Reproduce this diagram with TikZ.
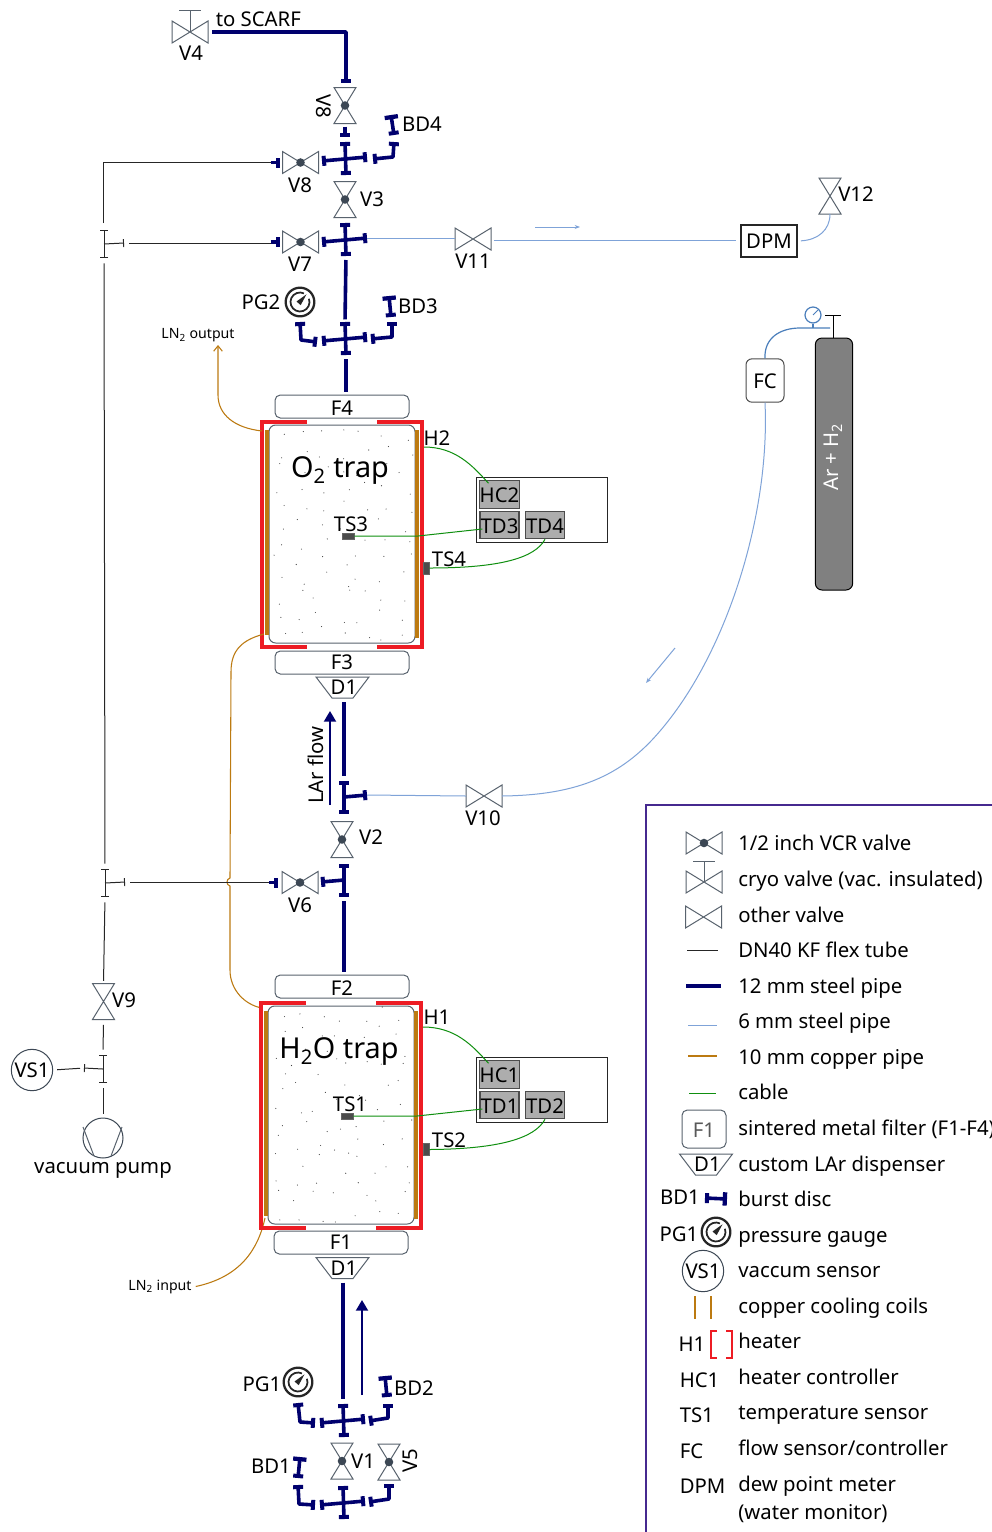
\documentclass[tikz,border=0pt]{standalone}
\usepackage{fontspec}
\setmainfont{Noto Sans}
\usetikzlibrary{arrows.meta}

\definecolor{pipenavy}{HTML}{00006E}
\definecolor{thinblue}{HTML}{7FA3D8}
\definecolor{gasblue}{HTML}{4A7EBB}
\definecolor{copperline}{HTML}{BC7A11}
\definecolor{cablegreen}{HTML}{0F8F0F}
\definecolor{heaterred}{HTML}{ED1C24}
\definecolor{valvegrey}{HTML}{59636E}
\definecolor{valvedark}{HTML}{3C4754}
\definecolor{legendpurple}{HTML}{46298F}

\newcommand{\labelfont}{\fontsize{15.25}{18}\selectfont}
\newcommand{\smallfont}{\fontsize{10.6}{13}\selectfont}
\newcommand{\titlefont}{\fontsize{21.6}{26}\selectfont}

\tikzset{
  flangeend/.tip={Rectangle[length=3pt,width=7.5pt]},
  discend/.tip={Rectangle[length=3.2pt,width=10pt]},
  flexend/.tip={Bar[width=6pt,line width=.7pt]},
  pipe/.style={draw=pipenavy,line width=2.7pt,line join=round},
  flanged/.style={pipe,arrows={flangeend-flangeend}},
  burstdisc/.style={pipe,arrows={flangeend-discend}},
  stub/.style={pipe,arrows={-flangeend}},
  flex/.style={draw=black!85,line width=.75pt},
  flexbar/.style={flex,arrows={flexend-flexend}},
  sixmm/.style={draw=thinblue,line width=.75pt},
  gasline/.style={draw=gasblue,line width=.9pt},
  copper/.style={draw=copperline,line width=.8pt},
  coil/.style={fill=copperline,draw=none},
  cable/.style={draw=cablegreen,line width=.75pt},
  heater/.style={draw=heaterred,line width=2.7pt,line join=miter},
  valvebox/.style={inner sep=0pt,outer sep=0pt},
  hvalvebox/.style={valvebox,minimum width=27pt,minimum height=16.5pt},
  vvalvebox/.style={valvebox,minimum width=16.5pt,minimum height=27pt},
  valveline/.style={draw=valvegrey,line width=.75pt},
  tag/.style={font=\labelfont,inner sep=0pt},
  smalltag/.style={font=\smallfont,inner sep=0pt},
  legendtext/.style={font=\labelfont,inner sep=0pt,anchor=base west,yshift=-5.5pt},
  filterbox/.style={draw=valvegrey,line width=.75pt,rounded corners=4pt,inner sep=0pt,
    font=\labelfont,text height=13pt,text depth=0pt,minimum width=100.5pt,minimum height=17.25pt},
  trapbox/.style={draw=valvegrey,line width=.75pt,rounded corners=5pt,inner sep=0pt,
    minimum width=109.5pt,minimum height=163.5pt},
  rackbox/.style={draw=black!85,line width=.75pt,inner sep=0pt,
    minimum width=98.25pt,minimum height=48.75pt},
  unitbox/.style={draw=black!70,line width=.9pt,fill=black!32,inner sep=0pt,font=\labelfont,
    text height=12.2pt,text depth=0pt,minimum width=29.25pt,minimum height=20.5pt},
  sensorbox/.style={draw=black!60,fill=black!70,line width=.5pt,inner sep=0pt},
  dispbox/.style={inner sep=0pt,outer sep=0pt,font=\labelfont,minimum width=39.75pt,minimum height=15.75pt},
  gaugebox/.style={circle,draw=black!85,line width=1.7pt,inner sep=0pt,minimum size=21.5pt},
  vsbox/.style={circle,draw=valvedark,line width=.75pt,inner sep=0pt,minimum size=31pt,font=\labelfont},
}

% valve symbols
\newcommand{\hvalve}[3]{\node[hvalvebox] (#1) at (#2,#3) {};
  \draw[valveline] (#1.north west) -- (#1.south west) -- (#1.north east) -- (#1.south east) -- cycle;}
\newcommand{\vvalve}[3]{\node[vvalvebox] (#1) at (#2,#3) {};
  \draw[valveline] (#1.north west) -- (#1.north east) -- (#1.south west) -- (#1.south east) -- cycle;}
\newcommand{\valvedot}[1]{\fill[valvedark] (#1.center) circle (3.2pt);}
\newcommand{\gaugeface}[1]{
  \draw[black!85,line width=1.3pt] (#1) ++(-20:9.5) arc[start angle=-20,end angle=295,radius=9.5];
  \fill[black!85] (#1) ++(6.5,-7.7) -- ++(-10,7.2) -- ++(4.2,3.6) -- cycle;}
\newcommand{\dispenser}[3]{\node[dispbox] (#1) at (#2,#3) {\hspace*{2.2pt}D1};
  \draw[valveline] (#1.north west) -- (#1.north east) -- ++(-16,21) -- ++(-21,0) -- cycle;}

% pipe pieces with flanges
\newcommand{\pipecross}[3]{\coordinate (#1) at (#2,#3);
  \path (#1) ++(-23,2) coordinate (#1-w) ++(45,-4) coordinate (#1-e);
  \path (#1) ++(0,-17) coordinate (#1-n) ++(1,33) coordinate (#1-s);
  \draw[flanged] (#1-w) -- (#1-e);
  \draw[flanged] (#1-n) -- (#1-s);}
\newcommand{\pipetee}[5]{\coordinate (#1) at (#2,#3);
  \path (#1) ++(0,-16) coordinate (#1-n) ++(0,33) coordinate (#1-s);
  \path (#1) ++(0,0) coordinate (#1-j) ++(#4,#5) coordinate (#1-a);
  \draw[flanged] (#1-n) -- (#1-s);
  \draw[stub] (#1-j) -- (#1-a);}
\newcommand{\flextee}[4]{\coordinate (#1) at (#2,#3);
  \path (#1) ++(0,-14) coordinate (#1-n) ++(0,28) coordinate (#1-s);
  \path (#1) ++(#4,-1) coordinate (#1-a);
  \draw[flexbar] (#1-n) -- (#1-s);
  \draw[flex,arrows={-flexend}] (#1) -- (#1-a);}

% one trap with its coils, heater and packing
\newcommand{\coldtrap}[3]{
  \begin{scope}[shift={(#2,#3)}]
    \node[trapbox] (#1) at (0,0) {};
    \fill[coil] (-77,-104) rectangle (-73.5,101);
    \fill[coil] (73,-104) rectangle (76.5,104);
    \draw[heater] (-35,-112) -- (-80,-112) -- (-80,113) -- (-35,113);
    \draw[heater] (35,-112) -- (80,-112) -- (80,113) -- (35,113);
    \foreach \row in {0,...,11}
      \foreach \col in {0,...,6}{
        \pgfmathsetmacro\dotx{-63+\col*21+rand*8}
        \pgfmathsetmacro\doty{-100+\row*18.2+rand*8}
        \fill[black!75] (\dotx,\doty) circle (.42pt);
      }
  \end{scope}}

\begin{document}
\begin{tikzpicture}[x=.75pt,y=-.75pt]
  \path[use as bounding box,fill=white] (0,0) rectangle (992,1532);
  \pgfmathsetseed{11}

  % top line to the exhaust
  \hvalve{vfour}{190}{32}
  \draw[valveline,arrows={-Bar[width=16.5pt,line width=.75pt]}] (vfour.center) -- (190,10);
  \node[tag] (lbvfour) at (191,53) {V4};
  \node[tag,anchor=west] (lbscarf) at (215.5,19) {to SCARF};
  \vvalve{veighttop}{345}{105.5}\valvedot{veighttop}
  \node[tag,rotate=-90] (lbveighttop) at (324,106) {V8};
  \pipecross{crossa}{345}{159}
  \draw[stub,shorten >=3.5pt] (vfour.east) ++(4,0) -| (veighttop.north -| crossa-s);
  \draw[stub] (veighttop.south) ++(0,3) -- ++(0,10);
  \draw[flanged] (crossa-e) ++(6,2) -- ++(20,-2) -- ++(1,-15) coordinate (bdfourfoot);
  \draw[burstdisc] (bdfourfoot) ++(0,-7) -- ++(-3,-20);
  \node[tag] (lbbdfour) at (422,124) {BD4};
  \hvalve{veight}{300.5}{162.5}\valvedot{veight}
  \node[tag] (lbveight) at (300,185) {V8};
  \draw[stub] (veight.west) ++(-12,0) coordinate (stubeight) -- ++(9,0);

  \vvalve{vthree}{345}{199.5}\valvedot{vthree}
  \node[tag] (lbvthree) at (372,199) {V3};
  \pipecross{crossb}{345}{240}
  \hvalve{vseven}{300.5}{242}\valvedot{vseven}
  \node[tag] (lbvseven) at (300,264) {V7};
  \draw[stub] (vseven.west) ++(-12,0) coordinate (stubseven) -- ++(9,0);

  % humidity line
  \hvalve{veleven}{473}{239}
  \node[tag] (lbveleven) at (473,261) {V11};
  \node[draw=black!85,line width=.8pt,inner sep=0pt,minimum width=42pt,minimum height=24pt,font=\labelfont] (dpm) at (769,241) {DPM};
  \vvalve{vtwelve}{830}{196}
  \node[tag] (lbvtwelve) at (856,194) {V12};
  \draw[sixmm] (crossb-e) -- (veleven.west |- crossb-e);
  \draw[sixmm,shorten <=2pt,shorten >=3pt] (veleven.east) ++(0,1) coordinate (humstart) -- (dpm.west |- humstart);
  \draw[sixmm,shorten <=2.5pt] (dpm.east) .. controls (818,240) and (830,230) .. (vtwelve.south);
  \coordinate (flowa) at (535,227);
  \coordinate (flowb) at (580,227);
  \draw[sixmm,arrows={-Stealth[length=4pt,width=3pt]}] (flowa) -- (flowb);

  \pipecross{crossc}{345}{339}
  \draw[pipe,shorten <=3pt,shorten >=2pt] (crossb-s) -- (crossc-n);
  \node[gaugebox] (pgtwo) at (300,302) {};\gaugeface{pgtwo}
  \node[tag] (lbpgtwo) at (261,302) {PG2};
  \draw[flanged] (crossc-w) ++(-5,1) -- ++(-16,-2) -- (pgtwo.south |- 0,322);
  \draw[flanged] (crossc-e) ++(4,2) -- ++(21,-2) -- ++(0,-15) coordinate (bdthreefoot);
  \draw[burstdisc] (bdthreefoot) ++(-1,-5) -- ++(-2,-21);
  \node[tag] (lbbdthree) at (418,306) {BD3};

  % oxygen trap
  \node[filterbox] (ffour) at (342,406.5) {F4};
  \draw[pipe,shorten <=3pt,shorten >=2pt] (crossc-s) -- (ffour.north -| crossc-s);
  \coldtrap{otrap}{342}{534}
  \node[font=\titlefont,inner sep=0pt] (lbotrap) at (340,471) {O\textsubscript{2} trap};
  \node[filterbox,text height=11pt] (fthree) at (342,662.5) {F3};
  \dispenser{donetop}{342.5}{687.5}
  \node[sensorbox,minimum width=9pt,minimum height=4.5pt] (tsthree) at (348,536) {};
  \node[tag] (lbtsthree) at (351,524) {TS3};
  \node[sensorbox,minimum width=4.5pt,minimum height=9pt] (tsfour) at (426,568) {};
  \node[tag] (lbtsfour) at (449,559) {TS4};
  \node[tag] (lbhtwo) at (437,438) {H2};
  \node[rackbox] (rackb) at (541.5,509.5) {};
  \node[unitbox] (hctwo) at (499.5,494.5) {HC2};
  \node[unitbox] (tdthree) at (499.5,525) {TD3};
  \node[unitbox] (tdfour) at (545,525) {TD4};
  \coordinate (hconn) at (424,447);
  \path (hctwo.north) ++(-11,3) coordinate (hcin);
  \path (tdthree.west) ++(3,4) coordinate (tdin);
  \draw[cable] (hconn) .. controls (455,447) and (472,465) .. (hcin);
  \draw[cable] (tsthree.east) -- (418,536) -- (tdin);
  \draw[cable] (tsfour.east) .. controls (500,568) and (535,558) .. (tdfour.south);

  % LN2 lines
  \node[smalltag] (lblnout) at (198,335.5) {LN\textsubscript{2} output};
  \coordinate (lnoutend) at (218,345);
  \draw[copper,arrows={-Straight Barb[length=4pt,width=6.5pt]}] (262,431) .. controls (235,428) and (218,415) .. (218,395) -- (lnoutend);
  \draw[copper] (264,634) .. controls (242,640) and (231,650) .. (231,672) -- (230,878)
    .. controls (226,879) and (226,885) .. (230,886) -- (230,970) .. controls (230,990) and (245,1005) .. (262,1008);
  \node[smalltag] (lblnin) at (160,1286.5) {LN\textsubscript{2} input};
  \draw[copper] (lblnin.east) ++(4,0) .. controls (240,1277) and (258,1250) .. (265,1218);

  % LAr section
  \pipetee{teelar}{344}{797}{23}{-2}
  \draw[pipe,shorten <=3pt,shorten >=4pt] (donetop.south -| teelar) -- (teelar-n);
  \coordinate (larfoot) at (330,805);
  \coordinate (larhead) at (330,711);
  \draw[draw=pipenavy,line width=1.5pt,arrows={-Triangle[length=8pt,width=9pt]}] (larfoot) -- (larhead);
  \node[tag,rotate=90] (lblar) at (316,765) {LAr flow};
  \hvalve{vten}{484}{796}
  \node[tag] (lbvten) at (483,818) {V10};
  \draw[sixmm] (teelar-a) -- (vten.west);

  % gas supply
  \node[draw=black!70,line width=.75pt,rounded corners=4.5pt,inner sep=0pt,minimum width=28.5pt,minimum height=32.5pt,font=\labelfont,text height=12.2pt,text depth=0pt] (fc) at (765,380.5) {FC};
  \draw[sixmm] (vten.east) .. controls (580,795) and (625,775) .. (665,725) .. controls (730,645) and (770,510) .. (fc.south);
  \coordinate (flowc) at (675,648);
  \coordinate (flowd) at (646,683);
  \draw[sixmm,arrows={-Stealth[length=4pt,width=3pt]}] (flowc) -- (flowd);
  \node[draw=black,line width=.75pt,fill=black!50,rounded corners=5pt,inner sep=0pt,minimum width=28pt,minimum height=189pt] (bottle) at (834,464) {};
  \node[font=\labelfont,text=white,rotate=90,inner sep=0pt] (lbbottle) at (833,457) {Ar + H\textsubscript{2}};
  \draw[draw=black,line width=.75pt,arrows={-Bar[width=11.5pt,line width=.75pt]}] (bottle.north -| 833,0) -- (833,315);
  \coordinate (gasend) at (830,328);
  \draw[gasline] (fc.north) .. controls (764,338) and (780,328) .. (800,328) -- (gasend);
  \node[circle,draw=gasblue,line width=.9pt,inner sep=0pt,minimum size=12pt] (gasgauge) at (813,315) {};
  \draw[gasline] (gasgauge.south) -- (gasgauge.south |- gasend);
  \draw[gasline,line width=.6pt] (gasgauge.center) -- ++(5,-5);

  % V2 and below
  \vvalve{vtwo}{342}{839.5}\valvedot{vtwo}
  \node[tag] (lbvtwo) at (371,837) {V2};
  \pipetee{teevsix}{344}{880}{-23}{2}
  \hvalve{vsix}{300}{882.5}\valvedot{vsix}
  \node[tag] (lbvsix) at (300,905) {V6};
  \draw[stub] (vsix.west) ++(-13,0) coordinate (stubsix) -- ++(9,0);

  % water trap
  \node[filterbox] (ftwo) at (342,986.5) {F2};
  \draw[pipe,shorten <=3pt,shorten >=2pt] (teevsix-s) -- (ftwo.north -| teevsix-s);
  \coldtrap{wtrap}{341}{1115}
  \node[font=\titlefont,inner sep=0pt] (lbwtrap) at (339,1052) {H\textsubscript{2}O trap};
  \node[filterbox,text height=11pt] (fone) at (341,1242.5) {F1};
  \dispenser{donebot}{342.5}{1268}
  \node[sensorbox,minimum width=9pt,minimum height=4.5pt] (tsone) at (347,1116) {};
  \node[tag] (lbtsone) at (350,1104) {TS1};
  \node[sensorbox,minimum width=4.5pt,minimum height=9pt] (tstwo) at (426,1149.5) {};
  \node[tag] (lbtstwo) at (449,1140) {TS2};
  \node[tag] (lbhone) at (437,1017) {H1};
  \node[rackbox] (racka) at (541.5,1090) {};
  \node[unitbox] (hcone) at (499.5,1074.5) {HC1};
  \node[unitbox] (tdone) at (499.5,1105) {TD1};
  \node[unitbox] (tdtwo) at (545,1105) {TD2};
  \coordinate (hconnb) at (423,1027);
  \path (hcone.north) ++(-11,3) coordinate (hcinb);
  \path (tdone.west) ++(3,4) coordinate (tdinb);
  \draw[cable] (hconnb) .. controls (455,1027) and (472,1045) .. (hcinb);
  \draw[cable] (tsone.east) -- (417,1116) -- (tdinb);
  \draw[cable] (tstwo.east) .. controls (500,1149) and (535,1138) .. (tdtwo.south);

  % bottom manifold
  \pipecross{crossd}{343}{1421}
  \draw[pipe,shorten <=3pt,shorten >=4pt] (donebot.south -| crossd) -- (crossd-n);
  \coordinate (inletfoot) at (362,1395);
  \coordinate (inlethead) at (362,1300);
  \draw[draw=pipenavy,line width=1.5pt,arrows={-Triangle[length=8pt,width=9pt]}] (inletfoot) -- (inlethead);
  \node[gaugebox] (pgone) at (298,1382) {};\gaugeface{pgone}
  \node[tag] (lbpgone) at (262,1384) {PG1};
  \draw[flanged] (crossd-w) ++(-5,0) -- ++(-15,-1) -- ++(-2,-19);
  \draw[flanged] (crossd-e) ++(4,2) -- ++(19,-3) -- ++(0,-14) coordinate (bdtwofoot);
  \draw[burstdisc] (bdtwofoot) ++(-1,-7) -- ++(-2,-21);
  \node[tag] (lbbdtwo) at (414,1388) {BD2};
  \vvalve{vone}{342}{1461}\valvedot{vone}
  \node[tag] (lbvone) at (363,1461) {V1};
  \vvalve{vfive}{389}{1462}\valvedot{vfive}
  \node[tag,rotate=90] (lbvfive) at (410,1461) {V5};
  \pipecross{crosse}{343}{1503}
  \draw[flanged] (crosse-w) ++(-5,0) -- ++(-16,-1) -- ++(-1,-19) coordinate (bdonefoot);
  \draw[flanged] (crosse-e) ++(4,1) -- ++(20,-3) -- ++(0,-15);
  \draw[burstdisc] (bdonefoot) ++(0,-7) -- ++(2,-21);
  \node[tag] (lbbdone) at (271,1466) {BD1};

  % vacuum side
  \flextee{teea}{104}{244}{20}
  \flextee{teeb}{105}{883}{20}
  \flextee{teec}{103}{1069}{-19}
  \coordinate (flextop) at (103,223);
  \draw[flex] (flextop) |- (stubeight);
  \draw[flex,shorten <=4pt] (teea-a) -- (stubseven |- teea-a);
  \draw[flex,shorten <=4pt,shorten >=4pt] (teea-s) -- (teeb-n);
  \draw[flex,shorten <=4pt] (teeb-a) -- (stubsix |- teeb-a);
  \vvalve{vnine}{103.5}{1001.5}
  \node[tag] (lbvnine) at (124,1000) {V9};
  \draw[flex,shorten <=4pt,shorten >=2pt] (teeb-s) -- (vnine.north);
  \draw[flex,shorten <=4pt,shorten >=4pt] (vnine.south) -- (teec-n);
  \node[vsbox] (vsone) at (32,1070) {VS1};
  \draw[flex,shorten <=3pt,shorten >=3pt] (vsone.east) -- (teec-a);
  \node[circle,draw=valvedark,line width=.75pt,inner sep=0pt,minimum size=30pt] (pump) at (103,1138) {};
  \draw[valveline] (83,1127) -- (94,1156);
  \draw[valveline] (122,1127) -- (111,1156);
  \draw[flex,shorten <=4pt,shorten >=3pt] (teec-s) -- (pump.north);
  \node[tag] (lbpump) at (103,1170) {vacuum pump};

  % legend
  \draw[draw=legendpurple,line width=1.1pt] (1000,805) -- (646,805) -- (646,1540);
  \foreach \y/\txt in {843/{1/2 inch VCR valve},879/{cryo valve (vac. insulated)},915/{other valve},
      950/{DN40 KF flex tube},986/{12 mm steel pipe},1021/{6 mm steel pipe},1057/{10 mm copper pipe},
      1092/{cable},1128/{sintered metal filter (F1-F4)},1164/{custom LAr dispenser},1199/{burst disc},
      1235/{pressure gauge},1270/{vaccum sensor},1306/{copper cooling coils},1341/{heater},
      1377/{heater controller},1412/{temperature sensor},1448/{flow sensor/controller},
      1484/{dew point meter},1512/{(water monitor)}}
    \node[legendtext] (lg\y) at (738,\y) {\txt};
  \hvalve{lgvcr}{704}{843}\valvedot{lgvcr}
  \hvalve{lgcryo}{704}{882}
  \draw[valveline,arrows={-Bar[width=16.5pt,line width=.75pt]}] (lgcryo.center) -- (704,861);
  \hvalve{lgother}{703.5}{917}
  \draw[flex] (687,950) -- (718,950);
  \draw[pipe] (686,986) -- (721,986);
  \draw[sixmm] (688,1025) -- (717,1025);
  \draw[copper,line width=1.5pt] (688,1056) -- (717,1056);
  \draw[cable] (689,1093) -- (716,1093);
  \node[filterbox,text=black!65,minimum width=33pt,minimum height=28.5pt] (lgfilter) at (704,1129) {F1};
  \dispenser{lgdisp}{706}{1164.5}
  \node[tag] (lgbd) at (680,1197) {BD1};
  \draw[burstdisc] (705,1198) -- (727,1199);
  \node[tag] (lgpgt) at (679,1234) {PG1};
  \node[gaugebox] (lgpg) at (716,1232) {};\gaugeface{lgpg}
  \node[vsbox] (lgvs) at (703,1271) {VS1};
  \draw[copper,line width=1.1pt] (695,1296) -- (695,1319);
  \draw[copper,line width=1.1pt] (711,1296) -- (711,1319);
  \node[tag] (lghone) at (692,1344) {H1};
  \draw[draw=heaterred,line width=.8pt] (717,1331) -- (711,1331) -- (711,1358) -- (717,1358);
  \draw[draw=heaterred,line width=.8pt] (726,1331) -- (732,1331) -- (732,1358) -- (726,1358);
  \node[tag,anchor=west] (lghc) at (679.5,1380) {HC1};
  \node[tag,anchor=west] (lgts) at (679.5,1415) {TS1};
  \node[tag,anchor=west] (lgfc) at (679.5,1451) {FC};
  \node[tag,anchor=west] (lgdpm) at (679.5,1486) {DPM};
\end{tikzpicture}
\end{document}
